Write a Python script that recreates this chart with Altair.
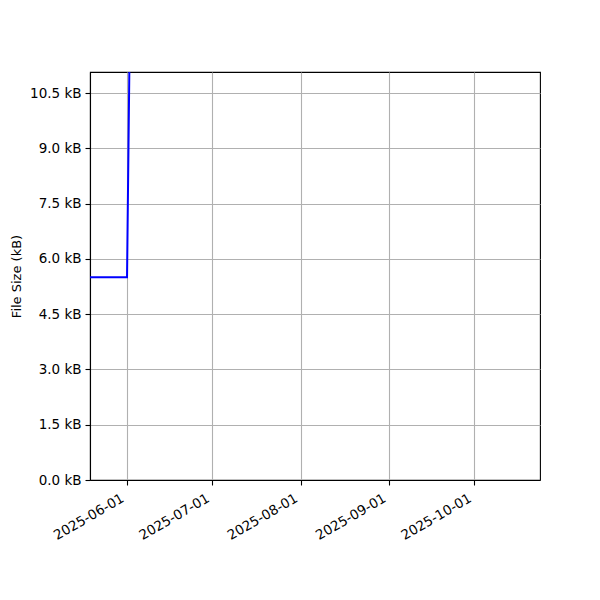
import altair as alt
import pandas as pd

dates = ["2025-05-19", "2025-06-01", "2025-06-02"]
sizes_kb = [5.5, 5.5, 12.4]

y_ticks = [0.0, 1.5, 3.0, 4.5, 6.0, 7.5, 9.0, 10.5]
y_max = 11.07
x_tick_dates = [(2025, 6, 1), (2025, 7, 1), (2025, 8, 1), (2025, 9, 1), (2025, 10, 1)]
x_domain = [(2025, 5, 19), (2025, 10, 24)]

df = pd.DataFrame({"date": dates, "size": sizes_kb})

def dt(t):
    return alt.DateTime(year=t[0], month=t[1], date=t[2], utc=True)

font = "DejaVu Sans"

chart = alt.Chart(df).mark_line(color="#0000ff", strokeWidth=2, clip=True).encode(
    x=alt.X(
        "date:T",
        scale=alt.Scale(type="utc", domain=[dt(d) for d in x_domain]),
        axis=alt.Axis(
            values=[dt(d) for d in x_tick_dates],
            labelExpr="utcFormat(datum.value, '%Y-%m-%d')",
            labelAngle=-30,
            labelAlign="right",
            labelBaseline="top",
            labelOffset=-8,
            labelPadding=6,
            title=None,
            grid=True,
        ),
    ),
    y=alt.Y(
        "size:Q",
        scale=alt.Scale(domain=[0, y_max], nice=False, zero=True),
        axis=alt.Axis(
            values=y_ticks,
            labelExpr="format(datum.value, '.1f') + ' kB'",
            title="File Size (kB)",
            titleX=-74,
            titleY=204,
            titleAngle=-90,
            titleAlign="center",
            titleBaseline="middle",
            titleFontWeight="normal",
            titleFontSize=13,
            labelPadding=4,
            grid=True,
        ),
    ),
).properties(
    width=450,
    height=408,
    padding={"left": 82, "top": 64, "right": 50, "bottom": 100},
    autosize=alt.AutoSizeParams(type="none"),
).configure_axis(
    labelFont=font,
    titleFont=font,
    labelFontSize=13.5,
    labelColor="black",
    titleColor="black",
    domainColor="black",
    domainWidth=1.1,
    tickColor="black",
    tickSize=5,
    tickWidth=1.1,
    gridColor="#b0b0b0",
    gridWidth=1.1,
    labelFlush=False,
    labelOverlap=False,
).configure_view(
    stroke="black",
    strokeWidth=1.1,
)

chart.save("out.html", embed_options={"renderer": "svg", "actions": False})
